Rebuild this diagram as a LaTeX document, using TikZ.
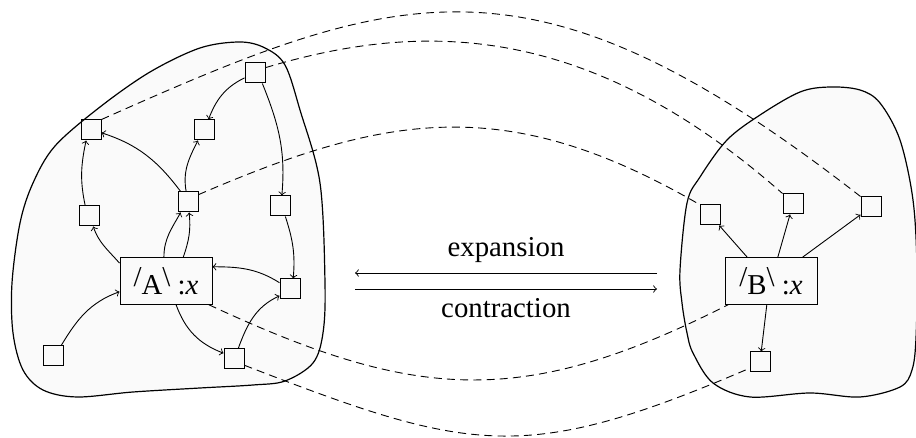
\documentclass[tikz,border=0pt]{standalone}
\usepackage{fontspec}
\setmainfont{Liberation Serif}
\newcommand{\upsl}{\raisebox{.28em}{/}}
\newcommand{\upbs}{\raisebox{.28em}{\textbackslash}}
\begin{document}
\begin{tikzpicture}[x=0.5pt,y=0.5pt,
  font=\fontsize{14.4}{17}\selectfont,
  sq/.style={draw, minimum size=10pt, inner sep=0pt, line width=0.5pt},
  bx/.style={draw, minimum width=46pt, minimum height=23.25pt, inner sep=0pt, line width=0.5pt},
  arr/.style={->, line width=0.45pt},
  dsh/.style={line width=0.45pt, dash pattern=on 4pt off 2.6pt},
  blob/.style={draw, line width=0.6pt, fill=gray!4}]
\useasboundingbox (0,0) rectangle (916,438);
% blobs
\draw[blob] plot[smooth cycle, tension=0.55] coordinates {
 (12,155) (20,215) (33,255) (55,292) (100,331) (150,366) (200,390) (240,396) (265,390)
 (285,373) (300,328) (320,255) (325,155) (323,105) (313,75) (285,57) (253,53)
 (200,50) (133,46) (77,41) (43,48) (23,68) (13,105)};
\draw[blob] plot[smooth cycle, tension=0.55] coordinates {
 (693,85) (687,105) (682,135) (680,168) (687,235) (700,261) (727,298) (760,323)
 (800,346) (830,351) (860,348) (880,335) (900,298) (913,238) (917,170) (916,100)
 (912,68) (900,51) (860,41) (810,45) (750,41) (713,55)};
% left nodes
\node[sq] (n1) at (255,365) {};
\node[sq] (n2) at (91,308) {};
\node[sq] (n3) at (204,308) {};
\node[sq] (n4) at (89,222) {};
\node[sq] (n5) at (188,236) {};
\node[sq] (n6) at (280,232) {};
\node[sq] (n7) at (290,149) {};
\node[sq] (n8) at (53,82) {};
\node[sq] (n9) at (234,79) {};
\node[bx] (A) at (166,157) {\upsl A\upbs\ :\textit{x}};
% right nodes
\node[bx] (B) at (771,157) {\upsl B\upbs\ :\textit{x}};
\node[sq] (r1) at (710,223) {};
\node[sq] (r2) at (793,234) {};
\node[sq] (r3) at (871,231) {};
\node[sq] (r4) at (760,76) {};
% left edges
\draw[arr] (n1.205) to[out=206,in=69] (n3.67);
\draw[arr] (n1.305) to[out=292,in=85] (n6.80);
\draw[arr] (n5.125) to[out=127,in=342] (n2.345);
\draw[arr] (n5.100) to[out=100,in=243] (n3.240);
\draw[arr] (n4.110) to[out=102,in=258] (n2.245);
\draw[arr] (A.159) to[out=131,in=289] (n4.292);
\draw[arr] (A.95) to[out=90,in=241] (n5.235);
\draw[arr] (A.54) to[out=71,in=276] (n5.276);
\draw[arr] (n6.297) to[out=288,in=85] (n7.73);
\draw[arr] (n7.149) to[out=148,in=0] (A.17);
\draw[arr] (n8.52) to[out=59,in=200] (A.193);
\draw[arr] (A.293) to[out=290,in=159] (n9.151);
\draw[arr] (n9.68) to[out=70,in=205] (n7.213);
% right edges
\draw[arr] (B.135) -- (r1);
\draw[arr] (B.74) -- (r2);
\draw[arr] (B.37) -- (r3);
\draw[arr] (B.260) -- (r4);
% middle arrows
\coordinate (e1) at (657,165);
\coordinate (e2) at (355,165);
\coordinate (c1) at (355,149);
\coordinate (c2) at (657,149);
\draw[arr] (e1) -- (e2);
\draw[arr] (c1) -- (c2);
\node[anchor=base] (lexp) at (506,181) {expansion};
\node[anchor=base] (lcon) at (506,120) {contraction};
% dashed correspondences
\draw[dsh] (n2.north east) .. controls (401,452) and (532,497) .. (r3.north west);
\draw[dsh] (n1.27) .. controls (415,415) and (582,421) .. (r2.north west);
\draw[dsh] (n5.35) .. controls (388,325) and (507,345) .. (r1.north west);
\draw[dsh] (A.331) .. controls (416,37) and (522,29) .. (B.209);
\draw[dsh] (n9.329) .. controls (471,-15) and (524,-27) .. (r4.211);
\end{tikzpicture}
\end{document}
